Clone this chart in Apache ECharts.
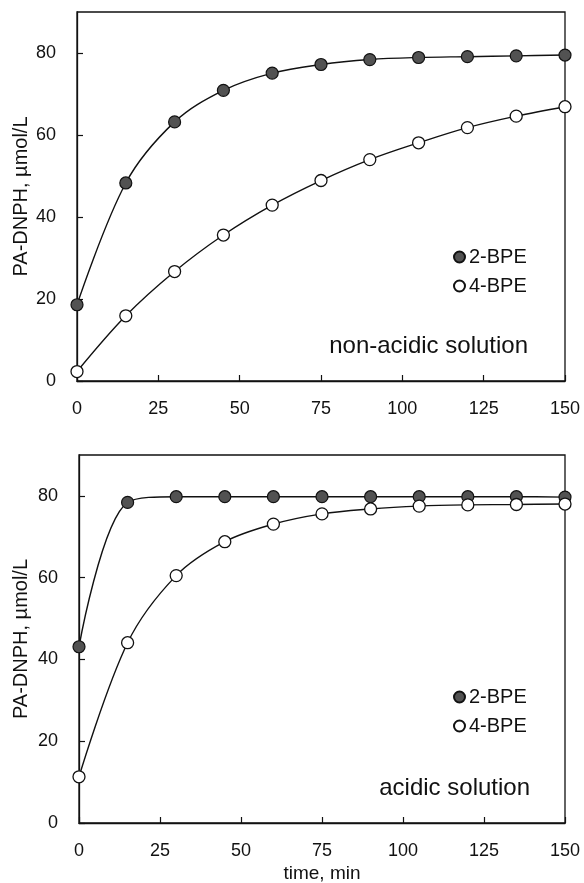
<!DOCTYPE html>
<html>
<head>
<meta charset="utf-8">
<script src="https://cdn.jsdelivr.net/npm/echarts@6/dist/echarts.min.js"></script>
<style>
  html, body { margin: 0; padding: 0; background: #fff; }
  #chart { width: 584px; height: 883px; }
</style>
</head>
<body>
<div id="chart"></div>
<script>
// Sampling times (min)
const times = [0, 15, 30, 45, 60, 75, 90, 105, 120, 135, 150];

// PA-DNPH formed in non-acidic solution (µmol/L)
const nonAcidic2BPE = [18.6, 48.3, 63.2, 70.9, 75.1, 77.2, 78.4, 78.9, 79.1, 79.3, 79.5];
const nonAcidic4BPE = [2.3, 15.9, 26.7, 35.6, 42.9, 48.9, 54.0, 58.1, 61.8, 64.6, 66.9];

// PA-DNPH formed in acidic solution (µmol/L)
const acidic2BPE = [43.1, 78.4, 79.8, 79.8, 79.8, 79.8, 79.8, 79.8, 79.8, 79.8, 79.7];
const acidic4BPE = [11.3, 44.1, 60.5, 68.8, 73.1, 75.6, 76.8, 77.5, 77.8, 77.9, 78.0];

// Axis ticks
const xTicks = [0, 25, 50, 75, 100, 125, 150];
const yTicks = [0, 20, 40, 60, 80];

const seriesNames = ['2-BPE', '4-BPE'];
const panelLabels = ['non-acidic solution', 'acidic solution'];
const xAxisTitle = 'time, min';
const yAxisTitle = 'PA-DNPH, µmol/L';

const FONT = 'Liberation Sans, Arial, Helvetica, sans-serif';

const pairs = (ys) => times.map((t, i) => [t, ys[i]]);

const filledStyle = { color: '#525252', borderColor: '#111111', borderWidth: 1.2 };
const openStyle = { color: '#ffffff', borderColor: '#111111', borderWidth: 1.3 };

function makeX(gridIndex, showName) {
  return {
    type: 'value', gridIndex, min: 0, max: 150, interval: 25,
    name: showName ? xAxisTitle : '',
    nameLocation: 'middle', nameGap: 41, nameMoveOverlap: false,
    nameTextStyle: { fontFamily: FONT, fontSize: 19, color: '#111' },
    axisLine: { show: true, lineStyle: { color: '#111', width: 1.3 } },
    axisTick: { show: true, inside: true, length: 6, lineStyle: { color: '#111', width: 1.2 }, customValues: xTicks },
    axisLabel: { margin: 19, fontFamily: FONT, fontSize: 18, color: '#111', customValues: xTicks },
    splitLine: { show: false }
  };
}

function makeY(gridIndex, left) {
  return {
    type: 'value', gridIndex, min: 0, max: 90, interval: 10,
    name: yAxisTitle,
    nameLocation: 'middle', nameGap: left - 31, nameRotate: 90, nameMoveOverlap: false,
    nameTextStyle: { fontFamily: FONT, fontSize: 20, color: '#111' },
    axisLine: { show: true, lineStyle: { color: '#111', width: 1.3 } },
    axisTick: { show: true, inside: true, length: 6, lineStyle: { color: '#111', width: 1.2 }, customValues: yTicks },
    axisLabel: { margin: 21, fontFamily: FONT, fontSize: 18, color: '#111', customValues: yTicks },
    splitLine: { show: false }
  };
}

function makeSeries(name, data, gi, style) {
  return {
    name, type: 'line', xAxisIndex: gi, yAxisIndex: gi,
    data: pairs(data),
    smooth: 0.35,
    symbol: 'circle', symbolSize: 12,
    lineStyle: { color: '#111', width: 1.4 },
    itemStyle: style,
    emphasis: { disabled: true },
    clip: false,
    animation: false,
    z: 3
  };
}

function makeLegend(top) {
  return {
    data: seriesNames, orient: 'vertical', left: 448, top,
    icon: 'circle', itemWidth: 11, itemHeight: 11, itemGap: 9,
    textStyle: { fontFamily: FONT, fontSize: 20, color: '#111', padding: [0, 0, 0, -1] },
    selectedMode: false
  };
}

const gridBase = { show: true, borderColor: '#111', borderWidth: 1.3, backgroundColor: 'transparent', containLabel: false, outerBoundsMode: 'none' };

const chart = echarts.init(document.getElementById('chart'), null, { renderer: 'canvas' });
chart.setOption({
  backgroundColor: '#fff',
  animation: false,
  grid: [
    Object.assign({ left: 77, top: 12, width: 488, height: 369 }, gridBase),
    Object.assign({ left: 79, top: 455, width: 486, height: 368 }, gridBase)
  ],
  xAxis: [makeX(0, false), makeX(1, true)],
  yAxis: [makeY(0, 77), makeY(1, 79)],
  legend: [makeLegend(242), makeLegend(682)],
  series: [
    makeSeries(seriesNames[0], nonAcidic2BPE, 0, filledStyle),
    makeSeries(seriesNames[1], nonAcidic4BPE, 0, openStyle),
    makeSeries(seriesNames[0], acidic2BPE, 1, filledStyle),
    makeSeries(seriesNames[1], acidic4BPE, 1, openStyle)
  ],
  graphic: [
    { type: 'text', right: 56, top: 334, style: { text: panelLabels[0], font: '24px ' + FONT, fill: '#111', textAlign: 'right' } },
    { type: 'text', right: 54, top: 776, style: { text: panelLabels[1], font: '24px ' + FONT, fill: '#111', textAlign: 'right' } }
  ]
});
</script>
</body>
</html>
